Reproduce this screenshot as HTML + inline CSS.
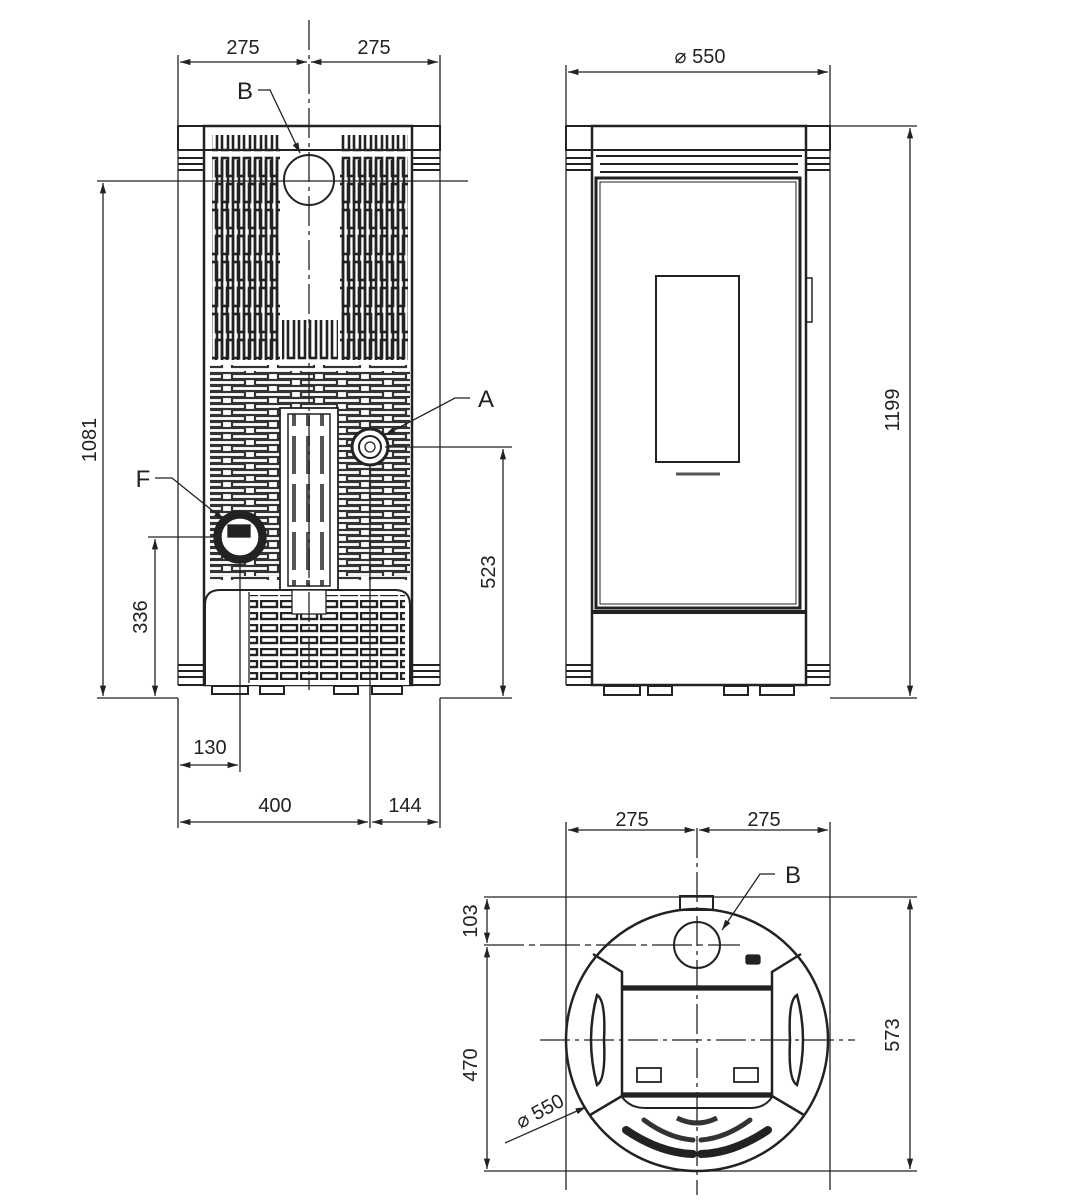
<!DOCTYPE html>
<html><head><meta charset="utf-8"><style>
html,body{margin:0;padding:0;background:#fff}
svg{display:block}
text{font-family:"Liberation Sans",sans-serif;font-size:20px;fill:#222}
</style></head><body>
<svg width="1070" height="1200" viewBox="0 0 1070 1200" xmlns="http://www.w3.org/2000/svg">
<defs>
<pattern id="vs" width="11" height="52" patternUnits="userSpaceOnUse">
<rect x="2" y="2" width="6" height="44" fill="none" stroke="#222" stroke-width="2.6"/>
</pattern>
<pattern id="vs2" width="11" height="52" patternUnits="userSpaceOnUse" x="5" y="26">
<rect x="2" y="2" width="6" height="44" fill="none" stroke="#222" stroke-width="2.6"/>
</pattern>
<pattern id="hs" width="46" height="12" patternUnits="userSpaceOnUse">
<rect x="2" y="2" width="36" height="5" fill="none" stroke="#333" stroke-width="2.2"/>
</pattern>
<pattern id="hs2" width="46" height="12" patternUnits="userSpaceOnUse" x="23" y="6">
<rect x="2" y="2" width="36" height="5" fill="none" stroke="#333" stroke-width="2.2"/>
</pattern>
<pattern id="cs" width="14" height="48" patternUnits="userSpaceOnUse" x="288">
<rect x="4" y="4" width="4" height="38" fill="#555"/>
</pattern>
<pattern id="bs" width="20" height="12" patternUnits="userSpaceOnUse">
<rect x="1" y="1" width="16" height="6" fill="none" stroke="#222" stroke-width="2.4"/>
</pattern>
<marker id="ar" viewBox="0 0 10 10" refX="10" refY="5" markerWidth="8" markerHeight="8" orient="auto-start-reverse"><path d="M0,2 L10,5 L0,8z" fill="#222"/></marker>
</defs>
<g stroke="#222" fill="none" stroke-width="1.3">
<!-- ===== FRONT VIEW ===== -->
<rect x="178" y="126" width="262" height="24" stroke-width="2"/>
<rect x="204" y="126" width="208" height="559" stroke-width="2.5"/>
<line x1="178" y1="150" x2="178" y2="685"/><line x1="440" y1="150" x2="440" y2="685"/>
<line x1="178" y1="685" x2="440" y2="685" stroke-width="2"/>
<g stroke-width="2">
<line x1="178" y1="158" x2="204" y2="158"/><line x1="178" y1="164" x2="204" y2="164"/><line x1="178" y1="170" x2="204" y2="170"/>
<line x1="412" y1="158" x2="440" y2="158"/><line x1="412" y1="164" x2="440" y2="164"/><line x1="412" y1="170" x2="440" y2="170"/>
<line x1="178" y1="665" x2="204" y2="665"/><line x1="178" y1="671" x2="204" y2="671"/><line x1="178" y1="677" x2="204" y2="677"/>
<line x1="412" y1="665" x2="440" y2="665"/><line x1="412" y1="671" x2="440" y2="671"/><line x1="412" y1="677" x2="440" y2="677"/>
</g>
<rect x="212" y="135" width="68" height="228" fill="url(#vs)" stroke="none"/>
<rect x="212" y="160" width="68" height="200" fill="url(#vs2)" stroke="none"/>
<rect x="340" y="135" width="68" height="228" fill="url(#vs)" stroke="none"/>
<rect x="340" y="160" width="68" height="200" fill="url(#vs2)" stroke="none"/>
<rect x="282" y="320" width="56" height="42" fill="url(#vs)" stroke="none"/>
<rect x="210" y="365" width="200" height="215" fill="url(#hs)" stroke="none"/>
<rect x="210" y="371" width="200" height="205" fill="url(#hs2)" stroke="none"/>
<circle cx="309" cy="180" r="25" fill="#fff" stroke-width="2"/>
<rect x="280" y="408" width="58" height="182" fill="#fff" stroke-width="1.8"/>
<rect x="288" y="414" width="42" height="172" fill="url(#cs)" stroke-width="1.5"/>
<path d="M205,685 V605 Q205,590 220,590 H395 Q410,590 410,605 V685" fill="#fff" stroke-width="2"/>
<rect x="250" y="595" width="155" height="85" fill="url(#bs)" stroke="none"/>
<line x1="249" y1="592" x2="249" y2="683"/>
<rect x="292" y="590" width="34" height="24" fill="#fff"/>
<circle cx="240" cy="537" r="26" fill="#222"/><circle cx="240" cy="537" r="19" fill="#fff"/>
<rect x="228" y="525" width="22" height="12" fill="#222"/>
<circle cx="370" cy="447" r="18" fill="#fff" stroke-width="3"/><circle cx="370" cy="447" r="11" stroke-width="2"/><circle cx="370" cy="447" r="5"/>
<g fill="#fff" stroke-width="2">
<rect x="212" y="686" width="36" height="8"/><rect x="260" y="686" width="24" height="8"/><rect x="334" y="686" width="24" height="8"/><rect x="372" y="686" width="30" height="8"/>
</g>
<line x1="309" y1="20" x2="309" y2="690" stroke-dasharray="30,5,4,5"/>
<!-- front dims -->
<line x1="178" y1="55" x2="178" y2="126"/><line x1="440" y1="55" x2="440" y2="126"/>
<line x1="180" y1="62" x2="307" y2="62" marker-start="url(#ar)" marker-end="url(#ar)"/>
<line x1="311" y1="62" x2="438" y2="62" marker-start="url(#ar)" marker-end="url(#ar)"/>
<line x1="97" y1="181" x2="468" y2="181"/>
<line x1="97" y1="698" x2="178" y2="698"/>
<line x1="103" y1="183" x2="103" y2="696" marker-start="url(#ar)" marker-end="url(#ar)"/>
<line x1="148" y1="537" x2="214" y2="537"/>
<line x1="155" y1="539" x2="155" y2="696" marker-start="url(#ar)" marker-end="url(#ar)"/>
<line x1="385" y1="447" x2="512" y2="447"/>
<line x1="440" y1="698" x2="512" y2="698"/>
<line x1="503" y1="449" x2="503" y2="696" marker-start="url(#ar)" marker-end="url(#ar)"/>
<line x1="240" y1="560" x2="240" y2="772"/>
<line x1="370" y1="465" x2="370" y2="828"/>
<line x1="178" y1="698" x2="178" y2="828"/><line x1="440" y1="698" x2="440" y2="828"/>
<line x1="180" y1="765" x2="238" y2="765" marker-start="url(#ar)" marker-end="url(#ar)"/>
<line x1="180" y1="822" x2="368" y2="822" marker-start="url(#ar)" marker-end="url(#ar)"/>
<line x1="372" y1="822" x2="438" y2="822" marker-start="url(#ar)" marker-end="url(#ar)"/>
<polyline points="258,90 270,90 300,153" marker-end="url(#ar)"/>
<polyline points="155,478 172,478 224,520" marker-end="url(#ar)"/>
<polyline points="470,398 455,398 385,435" marker-end="url(#ar)"/>
<!-- ===== SIDE VIEW ===== -->
<rect x="566" y="126" width="264" height="24" stroke-width="2"/>
<rect x="592" y="126" width="214" height="559" stroke-width="2.5"/>
<line x1="566" y1="150" x2="566" y2="685"/><line x1="830" y1="150" x2="830" y2="685"/>
<line x1="566" y1="685" x2="830" y2="685" stroke-width="2"/>
<g stroke-width="2">
<line x1="566" y1="158" x2="592" y2="158"/><line x1="566" y1="164" x2="592" y2="164"/><line x1="566" y1="170" x2="592" y2="170"/>
<line x1="806" y1="158" x2="830" y2="158"/><line x1="806" y1="164" x2="830" y2="164"/><line x1="806" y1="170" x2="830" y2="170"/>
<line x1="566" y1="665" x2="592" y2="665"/><line x1="566" y1="671" x2="592" y2="671"/><line x1="566" y1="677" x2="592" y2="677"/>
<line x1="806" y1="665" x2="830" y2="665"/><line x1="806" y1="671" x2="830" y2="671"/><line x1="806" y1="677" x2="830" y2="677"/>
<line x1="596" y1="156" x2="802" y2="156"/><line x1="600" y1="164" x2="798" y2="164"/><line x1="600" y1="172" x2="798" y2="172"/>
</g>
<rect x="596" y="178" width="204" height="430" stroke-width="3"/>
<rect x="600" y="182" width="196" height="422" stroke-width="1"/>
<line x1="592" y1="612" x2="806" y2="612" stroke-width="4"/>
<rect x="656" y="276" width="83" height="186" stroke-width="2"/>
<rect x="806" y="278" width="6" height="44" stroke-width="1.5"/>
<line x1="676" y1="474" x2="720" y2="474" stroke-width="3" stroke="#555"/>
<g fill="#fff" stroke-width="2">
<rect x="604" y="686" width="36" height="9"/><rect x="648" y="686" width="24" height="9"/><rect x="724" y="686" width="24" height="9"/><rect x="760" y="686" width="34" height="9"/>
</g>
<line x1="566" y1="65" x2="566" y2="126"/><line x1="830" y1="65" x2="830" y2="126"/>
<line x1="568" y1="72" x2="828" y2="72" marker-start="url(#ar)" marker-end="url(#ar)"/>
<line x1="830" y1="126" x2="917" y2="126"/><line x1="830" y1="698" x2="917" y2="698"/>
<line x1="910" y1="128" x2="910" y2="696" marker-start="url(#ar)" marker-end="url(#ar)"/>
<!-- ===== TOP VIEW ===== -->
<rect x="680" y="896" width="33" height="14" stroke-width="2"/>
<circle cx="697" cy="1040" r="131" stroke-width="2.5"/>
<path d="M593,954 L622,972 V1096 L590,1115" stroke-width="2.5"/>
<path d="M801,954 L772,972 V1096 L804,1115" stroke-width="2.5"/>
<rect x="622" y="986" width="150" height="4" fill="#222"/>
<rect x="622" y="1093" width="150" height="4" fill="#222"/>
<path d="M622,1097 Q630,1108 645,1108 H750 Q765,1108 772,1097" stroke-width="2"/>
<path d="M597,995 Q585,1040 597,1085 Q606,1080 604,1040 Q606,1000 597,995z" stroke-width="2.5"/>
<path d="M797,995 Q809,1040 797,1085 Q788,1080 790,1040 Q788,1000 797,995z" stroke-width="2.5"/>
<rect x="637" y="1068" width="24" height="14" stroke-width="1.8"/><rect x="734" y="1068" width="24" height="14" stroke-width="1.8"/>
<rect x="746" y="955" width="14" height="9" fill="#222" rx="2"/>
<path d="M626,1130 Q660,1153 693,1154" stroke-width="8" stroke="#222" stroke-linecap="round"/>
<path d="M768,1130 Q734,1153 701,1154" stroke-width="8" stroke="#222" stroke-linecap="round"/>
<path d="M644,1120 Q668,1138 693,1140" stroke-width="5" stroke="#333" stroke-linecap="round"/>
<path d="M750,1120 Q726,1138 701,1140" stroke-width="5" stroke="#333" stroke-linecap="round"/>
<path d="M677,1118 Q697,1128 717,1118" stroke-width="5" stroke="#333"/>
<circle cx="697" cy="945" r="23" fill="#fff" stroke-width="2"/>
<line x1="697" y1="828" x2="697" y2="1195" stroke-dasharray="30,5,4,5"/>
<line x1="540" y1="1040" x2="855" y2="1040" stroke-dasharray="30,5,4,5"/>
<line x1="484" y1="945" x2="740" y2="945" stroke-dasharray="40,5,6,5"/>
<line x1="566" y1="822" x2="566" y2="1190"/><line x1="830" y1="822" x2="830" y2="1190"/>
<line x1="568" y1="830" x2="695" y2="830" marker-start="url(#ar)" marker-end="url(#ar)"/>
<line x1="699" y1="830" x2="828" y2="830" marker-start="url(#ar)" marker-end="url(#ar)"/>
<line x1="484" y1="897" x2="917" y2="897"/>
<line x1="484" y1="1171" x2="917" y2="1171"/>
<line x1="487" y1="899" x2="487" y2="943" marker-start="url(#ar)" marker-end="url(#ar)"/>
<line x1="487" y1="947" x2="487" y2="1169" marker-start="url(#ar)" marker-end="url(#ar)"/>
<line x1="910" y1="899" x2="910" y2="1169" marker-start="url(#ar)" marker-end="url(#ar)"/>
<polyline points="775,874 760,874 722,930" marker-end="url(#ar)"/>
<line x1="505" y1="1143" x2="586" y2="1107" marker-end="url(#ar)"/>
</g>
<!-- labels -->
<text x="243" y="54" text-anchor="middle">275</text>
<text x="374" y="54" text-anchor="middle">275</text>
<text x="245" y="99" text-anchor="middle" style="font-size:24px">B</text>
<text x="143" y="487" text-anchor="middle" style="font-size:24px">F</text>
<text x="486" y="407" text-anchor="middle" style="font-size:24px">A</text>
<text transform="translate(96,440) rotate(-90)" text-anchor="middle">1081</text>
<text transform="translate(147,617) rotate(-90)" text-anchor="middle">336</text>
<text transform="translate(495,572) rotate(-90)" text-anchor="middle">523</text>
<text x="210" y="754" text-anchor="middle">130</text>
<text x="275" y="812" text-anchor="middle">400</text>
<text x="405" y="812" text-anchor="middle">144</text>
<text x="700" y="63" text-anchor="middle">⌀  550</text>
<text transform="translate(899,410) rotate(-90)" text-anchor="middle">1199</text>
<text x="632" y="826" text-anchor="middle">275</text>
<text x="764" y="826" text-anchor="middle">275</text>
<text x="793" y="883" text-anchor="middle" style="font-size:24px">B</text>
<text transform="translate(477,921) rotate(-90)" text-anchor="middle">103</text>
<text transform="translate(477,1065) rotate(-90)" text-anchor="middle">470</text>
<text transform="translate(899,1035) rotate(-90)" text-anchor="middle">573</text>
<text transform="translate(543,1117) rotate(-28)" text-anchor="middle">⌀  550</text>
</svg>
</body></html>
